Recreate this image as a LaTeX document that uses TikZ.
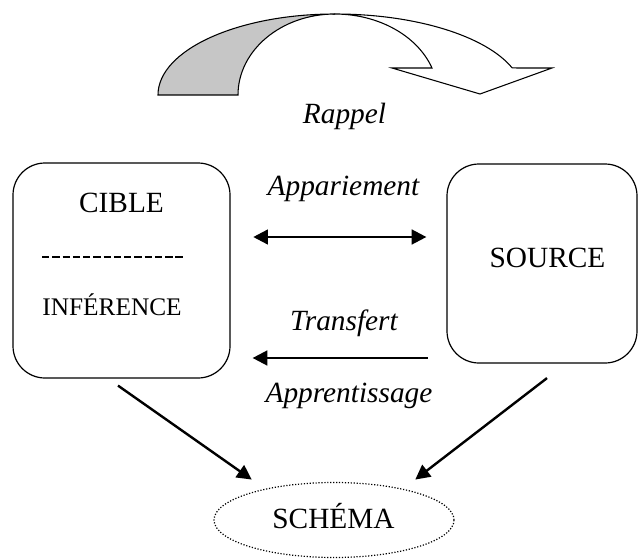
\documentclass[tikz,border=0pt]{standalone}
\usepackage{fontspec}
\setmainfont{Liberation Serif}
\usepackage{tikz}
\usetikzlibrary{arrows.meta}
\usetikzlibrary{shapes.geometric}

\begin{document}
\begin{tikzpicture}[x=0.75pt,y=-0.75pt,>={Triangle[length=11pt,width=11pt]},
        boite/.style={draw,rounded corners=24pt,line width=0.9pt,inner sep=0pt},
        mot/.style={anchor=base,inner sep=0pt,font=\fontsize{22}{26}\selectfont},
        lien/.style={mot,font=\fontsize{22}{26}\selectfont\itshape},
        fleche/.style={line width=1.8pt,->}]
        \useasboundingbox (0,0) rectangle (639,560);
        % curved arrow on top
        \filldraw[fill=gray!45,line width=0.8pt] (158,95) arc[start angle=180,end angle=270,x radius=177,y radius=81] arc[start angle=270,end angle=180,x radius=97,y radius=81] -- cycle;
        \filldraw[fill=white,line width=0.8pt] (335,14) arc[start angle=270,end angle=340.5,x radius=188,y radius=81] -- (552,68) -- (480,94) -- (392,68) -- (432,68) arc[start angle=340.5,end angle=270,x radius=103,y radius=81] -- cycle;
        \node[lien] (rappel) at (344.5,123) {Rappel};
        % boxes
        \node[boite,minimum width=162.75pt,minimum height=161.25pt] (cible) at (121.5,270.5) {};
        \node[boite,minimum width=142.5pt,minimum height=149.25pt] (source) at (542,263.5) {};
        \node[ellipse,draw,line width=0.9pt,dash pattern=on 0.9pt off 1.3pt,minimum width=180pt,minimum height=56.25pt,inner sep=0pt] (schema) at (334,520) {};
        \node[mot] (cibletxt) at (121.5,212) {CIBLE};
        \draw[line width=1.1pt,dash pattern=on 5.5pt off 2.2pt] (42,257) coordinate (sepg) -- (185,257) coordinate (sepd);
        \node[mot,font=\fontsize{19}{23}\selectfont] (inference) at (112,315) {INFÉRENCE};
        \node[mot] (sourcetxt) at (547.5,267) {SOURCE};
        \node[mot] (schematxt) at (333.5,528) {SCHÉMA};
        % links
        \node[lien] (appariement) at (343.5,195) {Appariement};
        \node[lien] (transfert) at (344,330) {Transfert};
        \node[lien] (apprentissage) at (349,402) {Apprentissage};
        \draw[fleche,<->,shorten <=17pt,shorten >=15pt] (cible.east |- 0,237) -- (source.west |- 0,237);
        \draw[fleche,shorten <=14pt,shorten >=16.5pt] (source.west |- 0,358) -- (cible.east |- 0,358);
        \draw[fleche] ([shift={(-3.5,7)}]cible.south) -- ([shift={(3,-13.5)}]schema.north west);
        \draw[fleche] ([shift={(5,14.5)}]source.south) -- ([shift={(-4,-13.5)}]schema.north east);
    \end{tikzpicture}
\end{document}
